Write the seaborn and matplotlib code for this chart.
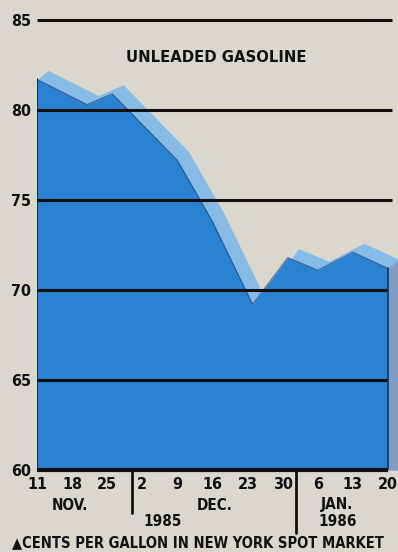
import matplotlib
matplotlib.use("Agg")
import matplotlib.pyplot as plt
from matplotlib import font_manager
import seaborn as sns

# ---- data (days after Nov 11, 1985; cents per gallon) ----
days = [0, 10, 15, 28, 35, 43, 50, 56, 63, 70]
price = [81.7, 80.3, 80.9, 77.2, 73.8, 69.2, 71.8, 71.1, 72.1, 71.2]
tick_days = [0, 7, 14, 21, 28, 35, 42, 49, 56, 63, 70]
tick_labels = ["11", "18", "25", "2", "9", "16", "23", "30", "6", "13", "20"]
y_ticks = [60, 65, 70, 75, 80, 85]
y_labels = ["60", "65", "70", "75", "80", "85"]
grid_levels = [65, 70, 75, 80, 85]

sns.set_theme(style="white")

# pick a condensed bold face if one is installed
cond = None
for f in font_manager.fontManager.ttflist:
    st = str(f.stretch).lower()
    if ("condensed" in st or "narrow" in f.name.lower() or "condensed" in f.name.lower()) \
            and (f.weight in ("bold", 700, "heavy", 800, 900) or str(f.weight) in ("700", "800", "900")):
        cond = f
        break
if cond is not None:
    FONT = [cond.name, "DejaVu Sans"]
    STRETCH = cond.stretch
else:
    FONT = ["Roboto", "DejaVu Sans"]
    STRETCH = "normal"
WEIGHT = "black"
plt.rcParams["font.family"] = FONT
plt.rcParams["font.weight"] = WEIGHT
plt.rcParams["font.stretch"] = STRETCH

BG = "#dad8cd"
DARK = "#2a82d2"
LIGHT = "#86bbe6"
SIDE = "#7f9cc6"
NAVY = "#14305e"
INK = "#111111"

W, H = 398, 552
fig = plt.figure(figsize=(W / 100, H / 100), dpi=100)
fig.patch.set_facecolor(BG)
ax = fig.add_axes([37 / W, 82 / H, 361 / W, 468 / H])
ax.set_facecolor(BG)
ax.set_xlim(0, 72)
ax.set_ylim(60, 86)

dx, dy = 2.2, 0.5
# top face (light) - shifted copy of the series
xl = [days[0]] + [d + dx for d in days]
yl = [price[0]] + [p + dy for p in price]
ax.fill_between(xl, 60, yl, color=LIGHT, lw=0, zorder=1)
# front face (dark)
ax.fill_between(days, 60, price, color=DARK, lw=0, zorder=2)
sns.lineplot(x=days, y=price, color=NAVY, lw=0.8, alpha=0.6, ax=ax, zorder=3)
ax.plot([days[0], days[0]], [60, price[0]], color=NAVY, lw=1.5, zorder=3)

# horizontal rules
ax.hlines(grid_levels, 0, 70.8, color=INK, lw=2.2, zorder=4)
# side face
ax.fill_between([days[-1], days[-1] + dx], 60, [price[-1], price[-1] + dy],
                color=SIDE, lw=0, zorder=5)
ax.plot([days[-1], days[-1]], [60, price[-1]], color=NAVY, lw=1.2, zorder=6)

# baseline
ax.hlines(60, 0, 70, color=INK, lw=3, zorder=7, clip_on=False)

for s in ax.spines.values():
    s.set_visible(False)

ax.set_xticks(tick_days)
ax.set_xticklabels(tick_labels)
ax.tick_params(axis="x", direction="in", length=13, width=2, color=NAVY,
               pad=5, labelsize=11.5, labelcolor=INK)
ax.set_yticks(y_ticks)
ax.set_yticklabels(y_labels)
ax.tick_params(axis="y", length=0, pad=4, labelsize=11.5, labelcolor=INK)
for lab in ax.get_xticklabels() + ax.get_yticklabels():
    lab.set_fontweight(WEIGHT)
    lab.set_zorder(8)

# month / year separators
ax.plot([19, 19], [60, 57.6], color=INK, lw=2, clip_on=False, zorder=7)
ax.plot([51.6, 51.6], [60, 56.5], color=INK, lw=2, clip_on=False, zorder=7)

texts = []
def ftext(x, y, s, maxw, size=11.0, ha="center"):
    t = fig.text(x / W, 1 - y / H, s, ha=ha, va="center", fontsize=size,
                 fontweight=WEIGHT, color=INK, family=FONT)
    texts.append((t, maxw))

ftext(216, 57, "UNLEADED GASOLINE", 180, size=12.0)
ftext(70, 505, "NOV.", 40)
ftext(215, 505, "DEC.", 40)
ftext(337, 505, "JAN.", 40)
ftext(338, 522, "1986", 40)
ftext(163, 522, "1985", 40)
ftext(12, 543, "▲CENTS PER GALLON IN NEW YORK SPOT MARKET", 370, size=11.0, ha="left")

# shrink any text that would be far wider than the reference's text
renderer = fig.canvas.get_renderer()
for t, maxw in texts:
    w = t.get_window_extent(renderer).width
    if w > maxw:
        t.set_fontsize(t.get_fontsize() * maxw / w)

fig.savefig("out.png", dpi=100, facecolor=BG)
